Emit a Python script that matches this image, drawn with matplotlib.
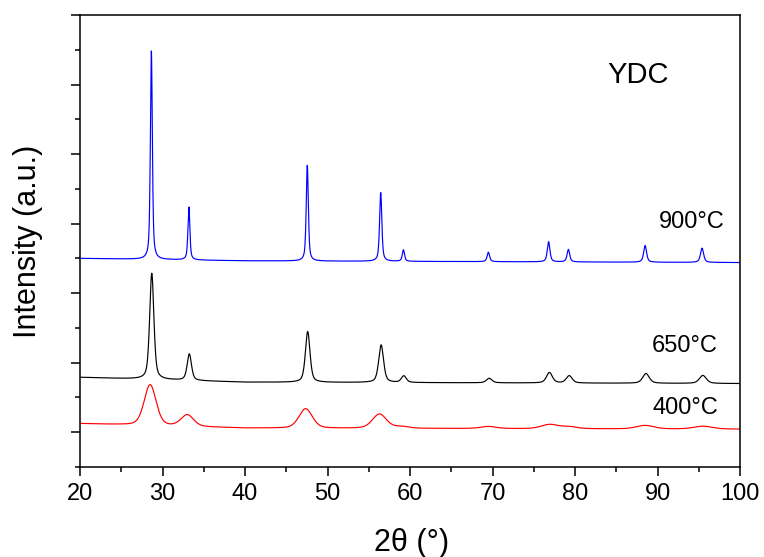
import numpy as np
import matplotlib
matplotlib.use('Agg')
import matplotlib.pyplot as plt

plt.rcParams['font.family'] = ['Liberation Sans', 'DejaVu Sans']

# 2theta grid of the scans
two_theta = np.linspace(20, 100, 4001)

# baseline read at a few angles (arb. units on the stacked axis)
base_x = [20, 40, 100]
base_900 = [6.00, 5.93, 5.88]
base_650 = [2.58, 2.44, 2.40]
base_400 = [1.25, 1.12, 1.09]

# reflections: position, height above baseline, FWHM
pos_900 = [28.65, 33.2, 47.55, 56.45, 59.2, 69.5, 76.8, 79.2, 88.5, 95.4]
h_900 = [6.02, 1.52, 2.76, 1.98, 0.33, 0.27, 0.58, 0.36, 0.48, 0.41]
w_900 = [0.28, 0.28, 0.30, 0.32, 0.32, 0.36, 0.38, 0.38, 0.42, 0.45]

pos_650 = [28.7, 33.25, 47.6, 56.5, 59.25, 69.6, 76.9, 79.3, 88.6, 95.5]
h_650 = [3.05, 0.76, 1.46, 1.08, 0.19, 0.13, 0.30, 0.21, 0.28, 0.23]
w_650 = [0.60, 0.62, 0.66, 0.70, 0.70, 0.80, 0.85, 0.85, 0.95, 1.0]

pos_400 = [28.5, 33.0, 47.35, 56.3, 59.0, 69.5, 76.9, 79.2, 88.5, 95.5]
h_400 = [1.17, 0.33, 0.56, 0.41, 0.05, 0.06, 0.12, 0.06, 0.10, 0.08]
w_400 = [1.70, 1.80, 1.90, 2.00, 2.0, 2.2, 2.3, 2.3, 2.5, 2.6]

labels = ['900°C', '650°C', '400°C']
label_x = [94.1, 93.3, 93.4]
label_y = [7.06, 3.47, 1.70]


def pattern(base, pos, h, w, eta):
    y = np.interp(two_theta, base_x, base)
    for p, a, fw in zip(pos, h, w):
        d = (two_theta - p) / (fw / 2)
        lor = 1 / (1 + d**2)
        gau = np.exp(-np.log(2) * d**2)
        y = y + a * (eta * lor + (1 - eta) * gau)
    return y


fig = plt.figure(figsize=(7.64, 5.57), dpi=100)
ax = fig.add_axes([80/764, 1-467/557, 660/764, 452/557])

ax.plot(two_theta, pattern(base_900, pos_900, h_900, w_900, 0.6), color='#0000ff', lw=0.85)
ax.plot(two_theta, pattern(base_650, pos_650, h_650, w_650, 0.5), color='black', lw=0.85)
ax.plot(two_theta, pattern(base_400, pos_400, h_400, w_400, 0.3), color='#ff0000', lw=0.85)

for t, x, y in zip(labels, label_x, label_y):
    ax.text(x, y, t, fontsize=17, ha='center', va='center')
ax.text(87.6, 11.26, 'YDC', fontsize=21, ha='center', va='center')

ax.set_xlim(20, 100)
ax.set_ylim(0, 13)
ax.set_xticks(np.arange(20, 101, 10))
ax.set_xticks(np.arange(25, 100, 10), minor=True)
ax.set_yticks(np.arange(1, 14, 2))
ax.set_yticks(np.arange(0, 13, 2), minor=True)
ax.set_yticklabels([])
ax.tick_params(which='major', direction='out', length=6.5, width=1.1, labelsize=17, pad=5)
ax.tick_params(which='minor', direction='out', length=3.5, width=1.1)
for s in ax.spines.values():
    s.set_linewidth(1.1)

ax.set_xlabel('2θ (°)', fontsize=22)
ax.set_ylabel('Intensity (a.u.)', fontsize=22)
ax.xaxis.set_label_coords(0.503, -0.168)
ax.yaxis.set_label_coords(-0.079, 0.5)
ax.xaxis.label.set_va('center')
ax.yaxis.label.set_va('center')

fig.savefig('out.png', dpi=100)
